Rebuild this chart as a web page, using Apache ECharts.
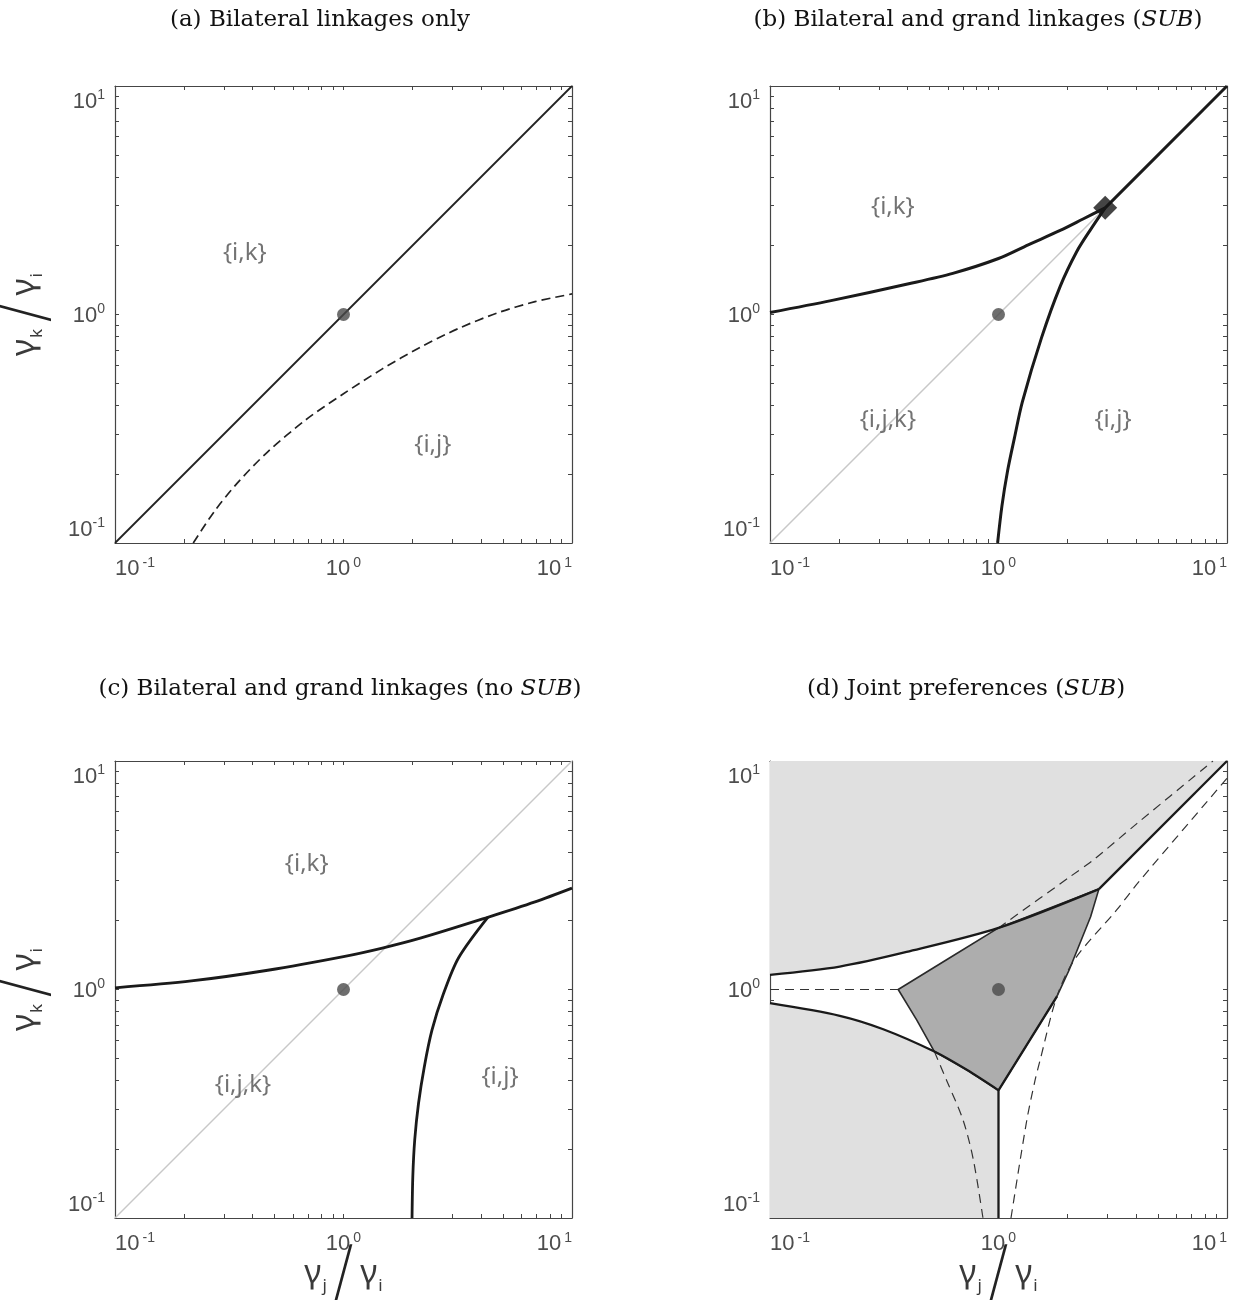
<!DOCTYPE html>
<html><head><meta charset="utf-8">
<script src="https://cdn.jsdelivr.net/npm/echarts@6/dist/echarts.min.js"></script>
<style>html,body{margin:0;padding:0;background:#fff}#c{width:1239px;height:1310px}</style>
</head><body><div id="c"></div>
<script>
// ---------- tick data ----------
const tickValues = [0.1, 1, 10];
const tickExponents = ['-1', '0', '1'];
const minorTickValues = [0.1,0.2,0.3,0.4,0.5,0.6,0.7,0.8,0.9,1,2,3,4,5,6,7,8,9,10];

// ---------- panel (a) ----------
const diagA = [[0.1,0.1],[10,10]];
const dashA = [[0.22,0.1],[0.272,0.1374],[0.342,0.1824],[0.466,0.2506],[0.684,0.346],[1.0,0.45],[1.479,0.578],[2.17,0.719],[3.19,0.869],[4.69,1.014],[6.89,1.138],[10,1.23]];
const labelsA = [{t:'{i,k}', x:0.37, y:1.86}, {t:'{i,j}', x:2.46, y:0.268}];

// ---------- panel (b) ----------
const diagGrayB = [[0.1,0.1],[2.93,2.93]];
const diagBlackB = [[2.93,2.93],[10,10]];
const upperB = [[0.1,1.02],[0.185,1.15],[0.40,1.36],[0.631,1.514],[1,1.758],[1.349,2.018],[1.862,2.333],[2.344,2.618],[2.93,2.93]];
const lowerB = [[0.991,0.1],[1.035,0.145],[1.096,0.207],[1.175,0.289],[1.271,0.4136],[1.542,0.79],[1.862,1.328],[2.198,1.882],[2.512,2.33],[2.93,2.93]];
const labelsB = [{t:'{i,k}', x:0.345, y:2.95}, {t:'{i,j,k}', x:0.328, y:0.345}, {t:'{i,j}', x:3.17, y:0.345}];
const diamondB = [[2.93,2.93]];

// ---------- panel (c) ----------
const diagGrayC = [[0.1,0.1],[10,10]];
const upperC = [[0.1,1.017],[0.216,1.09],[0.466,1.214],[1,1.393],[1.479,1.518],[2.168,1.677],[4.28,2.07],[6.89,2.417],[10,2.776]];
const lowerC = [[1.995,0.1],[2.011,0.1526],[2.05,0.22],[2.13,0.3177],[2.257,0.4585],[2.437,0.6617],[2.735,0.955],[3.19,1.378],[4.28,2.07]];
const labelsC = [{t:'{i,k}', x:0.69, y:3.54}, {t:'{i,j,k}', x:0.363, y:0.382}, {t:'{i,j}', x:4.84, y:0.414}];

// ---------- panel (d) ----------
const upperD = [[0.1,1.16],[0.202,1.26],[0.396,1.46],[1,1.86],[2.75,2.75]];
const diagD = [[2.75,2.75],[10,10]];
const lowerD = [[0.1,0.871],[0.202,0.767],[0.313,0.67],[0.524,0.535],[0.726,0.445],[1,0.362]];
const vertD = [[1,0.362],[1,0.1]];
const thickD = [[1.80,0.93],[1,0.362]];
const upperFillD = [[0.1,10],[0.1,1.16],[0.202,1.26],[0.396,1.46],[1,1.86],[2.75,2.75],[10,10]];
const lowerFillD = [[0.1,0.1],[0.1,0.871],[0.202,0.767],[0.313,0.67],[0.524,0.535],[0.726,0.445],[1,0.362],[1,0.1]];
const coreD = [[0.364,1],[0.6,1.36],[1,1.86],[2.75,2.75],[2.53,2.08],[2.27,1.59],[2.04,1.22],[1.80,0.93],[1,0.362],[0.726,0.445],[0.524,0.535],[0.439,0.735],[0.364,1]];
const dashHD = [[0.1,1],[0.364,1]];
const dashUpD = [[1,1.86],[2.06,3.12],[2.6,3.69],[4.03,5.32],[8.68,10]];
const dashLBD = [[0.524,0.535],[0.593,0.40],[0.70,0.268],[0.776,0.18],[0.855,0.1]];
const dashRD = [[1.134,0.1],[1.33,0.268],[1.445,0.40],[1.52,0.49],[1.80,0.93],[2.15,1.35],[3.29,2.23],[4.1,2.95],[10,8.4]];

const centerDot = [[1,1]];

// ---------- styles ----------
const FT = 'Liberation Sans, Arial, sans-serif';
const TC = '#4d4d4d';
const AX = '#454545';
const grids = [
  {left:115, top:86, width:457, height:457},
  {left:770, top:86, width:457, height:457},
  {left:115, top:761, width:457, height:457},
  {left:770, top:761, width:457, height:457}
].map(g => Object.assign({outerBoundsMode:'none', containLabel:false}, g));

function expOf(v){
  let idx = 0, best = 1e9;
  tickValues.forEach((t,i)=>{ const d = Math.abs(Math.log10(t) - Math.log10(v)); if (d < best){best=d; idx=i;} });
  return idx;
}
function xTickLabel(v){
  const i = expOf(v);
  const core = '{b|10}{s|' + tickExponents[i] + '}';
  if (i === 0) return '{padL| }' + core;
  if (i === tickValues.length - 1) return core + '{padR| }';
  return core;
}
function yTickLabel(v){
  const i = expOf(v);
  const core = '{b|10}{s|' + tickExponents[i] + '}';
  if (i === 0) return core + '\n{vp| }';
  if (i === tickValues.length - 1) return '{vp| }\n' + core;
  return core;
}
const tickRichX = {
  b:{fontSize:22, fontFamily:FT, color:TC, lineHeight:24, padding:[5,3,0,0], verticalAlign:'bottom'},
  s:{fontSize:14, fontFamily:FT, color:TC, lineHeight:16, verticalAlign:'top'},
  padL:{width:40, fontSize:10, lineHeight:10},
  padR:{width:35, fontSize:10, lineHeight:10}
};
const tickRichY = {
  b:{fontSize:22, fontFamily:FT, color:TC, lineHeight:24, padding:[5,0,0,0], verticalAlign:'bottom'},
  s:{fontSize:14, fontFamily:FT, color:TC, lineHeight:16, verticalAlign:'top'},
  vp:{fontSize:10, lineHeight:29, height:29}
};
const GF = 'Noto Sans, DejaVu Sans, sans-serif';
const nameRich = {
  g:{fontSize:33, fontFamily:GF, color:'#3a3a3a', verticalAlign:'middle'},
  sb:{fontSize:17, fontFamily:GF, color:'#3a3a3a', padding:[24,0,0,1], verticalAlign:'middle'},
  sl:{fontSize:64, fontFamily:'Inter, Lato, Liberation Sans, sans-serif', fontWeight:200, color:'#222', padding:[0,6,0,6], verticalAlign:'middle'}
};
const axisName = sub => '{g|γ}{sb|' + sub + '}{sl|/}{g|γ}{sb|i}';

function baseAxis(gi, pos){
  return {type:'log', logBase:10, gridIndex:gi, position:pos, min:0.1, max:10,
    axisLine:{show:true, onZero:false, lineStyle:{color:AX, width:1.2}},
    axisTick:{show:true, inside:true, length:4, customValues:minorTickValues, lineStyle:{color:AX, width:1}},
    minorTick:{show:false}, splitLine:{show:false}, axisLabel:{show:false}};
}
const xAxes = [], yAxes = [];
for (let i=0;i<4;i++){
  const xb = baseAxis(i,'bottom');
  xb.axisLabel = {show:true, customValues:tickValues, formatter:xTickLabel, rich:tickRichX, margin:13};
  if (i>=2){ xb.name = axisName('j'); xb.nameLocation='middle'; xb.nameGap=24; xb.nameMoveOverlap=false; xb.nameTextStyle={rich:nameRich}; }
  xAxes.push(xb);
  const yl = baseAxis(i,'left');
  yl.axisLabel = {show:true, customValues:tickValues, formatter:yTickLabel, rich:tickRichY, margin:10};
  if (i===0 || i===2){ yl.name = axisName('k'); yl.nameLocation='middle'; yl.nameGap=58; yl.nameRotate=90; yl.nameMoveOverlap=false; yl.nameTextStyle={rich:nameRich}; }
  yAxes.push(yl);
}
for (let i=0;i<4;i++){ xAxes.push(baseAxis(i,'top')); yAxes.push(baseAxis(i,'right')); }

function line(gi, data, color, width, type, z){
  return {type:'line', xAxisIndex:gi, yAxisIndex:gi, data, showSymbol:false, symbol:'none', silent:true, animation:false, smooth:0.3,
    z: z||3, lineStyle:{color, width, type: type||'solid', cap:'butt', join:'round'}};
}
function poly(gi, pts, fill, stroke, lw, z){
  return {type:'custom', xAxisIndex:gi, yAxisIndex:gi, z:z, silent:true, animation:false, data:[[1,1]],
    renderItem:(params, api) => ({type:'polygon', shape:{points: pts.map(p => api.coord(p))},
      style:{fill, stroke: stroke || 'none', lineWidth: lw || 0, lineJoin:'round'}})};
}
function labels(gi, arr){
  return {type:'scatter', xAxisIndex:gi, yAxisIndex:gi, symbolSize:0, silent:true, animation:false, z:6,
    data: arr.map(o => ({name:o.t, value:[o.x,o.y]})),
    label:{show:true, position:'inside', formatter:p => p.name, fontFamily:'Noto Sans, Open Sans, sans-serif', fontSize:24, color:'#505050'}};
}
function dot(gi, data, symbol, size, color){
  return {type:'scatter', xAxisIndex:gi, yAxisIndex:gi, data, symbol, symbolSize:size, silent:true, animation:false, z:8,
    itemStyle:{color}};
}
const K = '#1a1a1a';
const dashPat = [9,5];
const series = [
  // (a)
  line(0, diagA, '#222', 1.8),
  line(0, dashA, '#222', 1.7, dashPat),
  labels(0, labelsA),
  dot(0, centerDot, 'circle', 13, '#4a4a4a'),
  // (b)
  line(1, diagGrayB, '#c8c8c8', 1.5, 'solid', 2),
  line(1, diagBlackB, K, 3),
  line(1, upperB, K, 3),
  line(1, lowerB, K, 3),
  labels(1, labelsB),
  dot(1, centerDot, 'circle', 13, '#4a4a4a'),
  dot(1, diamondB, 'diamond', 24, '#151515'),
  // (c)
  line(2, diagGrayC, '#c8c8c8', 1.5, 'solid', 2),
  line(2, upperC, K, 2.8),
  line(2, lowerC, K, 2.8),
  labels(2, labelsC),
  dot(2, centerDot, 'circle', 13, '#4a4a4a'),
  // (d)
  poly(3, upperFillD, '#e0e0e0', null, 0, 1),
  poly(3, lowerFillD, '#e0e0e0', null, 0, 1),
  poly(3, coreD, '#adadad', '#2a2a2a', 1.6, 2),
  line(3, dashHD, '#333', 1.2, [9,6]),
  line(3, dashUpD, '#333', 1.2, [9,6]),
  line(3, dashLBD, '#333', 1.2, [9,6]),
  line(3, dashRD, '#333', 1.2, [9,6]),
  line(3, upperD, K, 2.3, 'solid', 4),
  line(3, diagD, K, 2.3, 'solid', 4),
  line(3, lowerD, K, 2.3, 'solid', 4),
  line(3, vertD, K, 2.3, 'solid', 4),
  line(3, thickD, K, 2.3, 'solid', 4),
  dot(3, centerDot, 'circle', 13, '#4a4a4a')
];
series.forEach(s => { if (s.type==='line' && s.data.length <= 2) s.smooth = false; });

const SERIF = 'DejaVu Serif, serif';
function title(x, y, text){
  return {type:'text', x, y, silent:true, style:{text, fontFamily:SERIF, fontSize:23, fill:'#111', align:'center', verticalAlign:'middle',
    rich:{it:{fontFamily:SERIF, fontStyle:'italic', fontSize:23, fill:'#111'}}}};
}
const option = {
  backgroundColor:'#fff',
  animation:false,
  grid: grids,
  xAxis: xAxes,
  yAxis: yAxes,
  series,
  graphic: [
    title(320, 20, '(a) Bilateral linkages only'),
    title(978, 20, '(b) Bilateral and grand linkages ({it|SUB})'),
    title(340, 689, '(c) Bilateral and grand linkages (no {it|SUB})'),
    title(966, 689, '(d) Joint preferences ({it|SUB})')
  ]
};
const chart = echarts.init(document.getElementById('c'));
chart.setOption(option);
</script></body></html>
